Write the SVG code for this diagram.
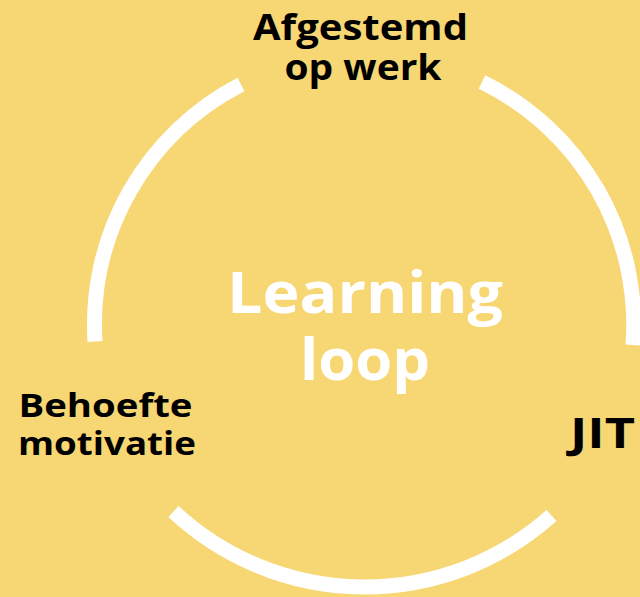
<svg xmlns="http://www.w3.org/2000/svg" width="640" height="597" viewBox="0 0 640 597">
  <style>
    .arc { fill: none; stroke: #FFFFFF; stroke-width: 15; stroke-linecap: butt; }
    .lbl { font-family: "Open Sans", "Liberation Sans", sans-serif; font-weight: 700; fill: #000000; }
    .ctr { font-family: "Open Sans", "Liberation Sans", sans-serif; font-weight: 700; fill: #FFFFFF; }
  </style>
  <rect x="0" y="0" width="640" height="597" fill="#F7D674"/>
  <g id="connectors">
    <path class="arc" d="M 482 82 A 270 270 0 0 1 633 345"/>
    <path class="arc" d="M 551.5 515.5 A 280 280 0 0 1 173.5 511.5"/>
    <path class="arc" d="M 95 341.5 A 270 270 0 0 1 241 84.5"/>
  </g>
  <g id="center">
    <text class="ctr" x="365" y="313" font-size="58" text-anchor="middle" textLength="276" lengthAdjust="spacingAndGlyphs">Learning</text>
    <text class="ctr" x="365" y="380" font-size="58" text-anchor="middle" textLength="130" lengthAdjust="spacingAndGlyphs">loop</text>
  </g>
  <g id="node-top">
    <text class="lbl" x="360.5" y="39.5" font-size="36" text-anchor="middle" textLength="215" lengthAdjust="spacingAndGlyphs">Afgestemd</text>
    <text class="lbl" x="363" y="80" font-size="36" text-anchor="middle" textLength="157" lengthAdjust="spacingAndGlyphs">op werk</text>
  </g>
  <g id="node-right">
    <text class="lbl" x="570" y="448" font-size="42" textLength="65" lengthAdjust="spacingAndGlyphs">JIT</text>
  </g>
  <g id="node-left">
    <text class="lbl" x="105.5" y="417" font-size="33" text-anchor="middle" textLength="174" lengthAdjust="spacingAndGlyphs">Behoefte</text>
    <text class="lbl" x="107" y="455" font-size="33" text-anchor="middle" textLength="178" lengthAdjust="spacingAndGlyphs">motivatie</text>
  </g>
</svg>
